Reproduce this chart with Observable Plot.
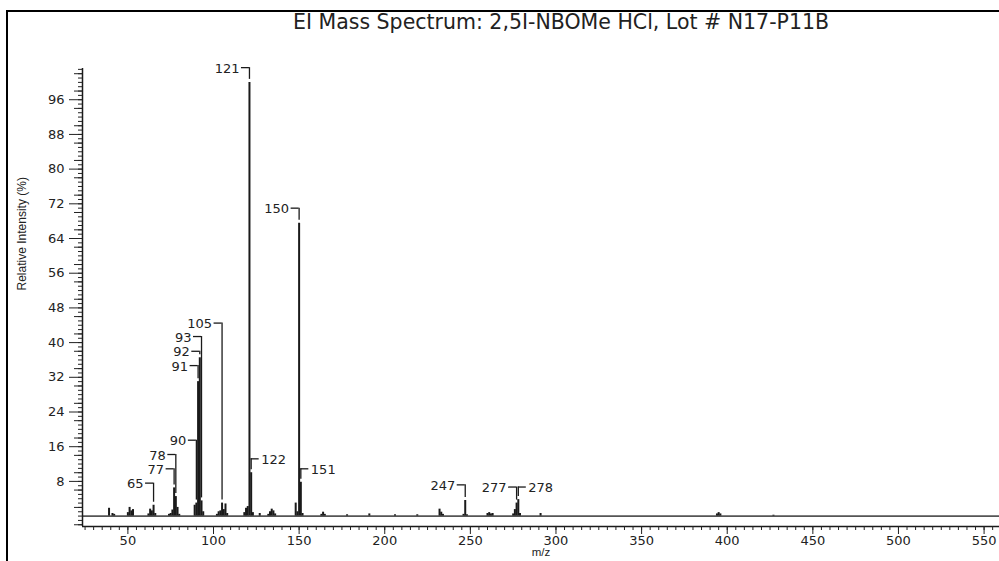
<!DOCTYPE html>
<html>
<head>
<meta charset="utf-8">
<script src="https://cdn.jsdelivr.net/npm/d3@7"></script>
<script src="https://cdn.jsdelivr.net/npm/@observablehq/plot@0.6"></script>
<style>
  html, body { margin: 0; padding: 0; background: #fff; }
  #wrap { position: relative; width: 999px; height: 561px; overflow: hidden; }
  #frameLeft { position: absolute; left: 6px; top: 10px; width: 2px; height: 551px; background: #000; }
  #frameTop { position: absolute; left: 6px; top: 10px; width: 993px; height: 2px; background: #000; }
  #title { position: absolute; top: 10px; left: 561px; transform: translateX(-50%); white-space: nowrap;
           font-family: "DejaVu Sans", sans-serif; font-size: 20.5px; color: #222; line-height: 24px; }
  #chart { position: absolute; left: 0; top: 0; }
</style>
</head>
<body>
<div id="wrap">
  <div id="chart"></div>
  <div id="frameLeft"></div>
  <div id="frameTop"></div>
  <div id="title">EI Mass Spectrum: 2,5I-NBOMe HCl, Lot # N17-P11B</div>
</div>
<script>
// ---- data ----
const mz = [39, 41, 42, 50, 51, 52, 53, 62, 63, 64, 65, 66, 74, 75, 76, 77, 78, 79, 80,
            89, 90, 91, 92, 93, 94, 102, 103, 104, 105, 106, 107, 108, 118, 119, 120, 121, 122, 123,
            127, 132, 133, 134, 135, 136, 148, 149, 150, 151, 152, 163, 164, 165, 178, 191, 206, 219,
            232, 233, 234, 246, 247, 248, 260, 261, 262, 263, 275, 276, 277, 278, 279, 291,
            394, 395, 396, 427];
const intensity = [1.8, 0.6, 0.4, 0.8, 2.0, 1.2, 1.5, 0.5, 1.6, 1.2, 2.5, 0.6, 0.4, 0.6, 1.4, 6.5, 4.5, 2.0, 0.4,
            2.5, 3.0, 31, 36.5, 3.5, 1.0, 0.4, 1.0, 1.2, 3.0, 1.5, 2.8, 0.6, 0.8, 1.8, 2.2, 100, 10, 0.8,
            0.6, 0.4, 1.0, 1.6, 1.2, 0.5, 3.0, 1.0, 67.5, 7.8, 0.6, 0.4, 0.9, 0.4, 0.3, 0.5, 0.3, 0.3,
            1.6, 0.9, 0.4, 0.4, 3.6, 0.3, 0.6, 0.8, 0.5, 0.6, 0.5, 1.5, 3.0, 3.8, 0.6, 0.6,
            0.5, 0.8, 0.5, 0.2];

// labelled peaks: where each label sits (in % units) and on which side of its peak
const labelMz    = [65, 77, 78, 90, 91, 92, 93, 105, 121, 122, 150, 151, 247, 277, 278];
const labelLevel = [7.6, 10.9, 14.2, 17.5, 34.7, 38.0, 41.4, 44.5, 103.4, 13.2, 71.0, 10.9, 7.2, 6.7, 6.7];
const labelSide  = ["left", "left", "left", "left", "left", "left", "left", "left", "left", "right",
                    "left", "right", "left", "left", "right"];

const xTickLabels = [50, 100, 150, 200, 250, 300, 350, 400, 450, 500, 550];
const yTickLabels = [8, 16, 24, 32, 40, 48, 56, 64, 72, 80, 88, 96];
const xDomain = [23.5, 559];
const yDomain = [-2.4, 103.2];

// ---- build ----
const W = 999, H = 561, mL = 82, mR = 0, mT = 68, mB = 35;
const pxPerX = (W - mL - mR) / (xDomain[1] - xDomain[0]);
const pxPerY = (H - mT - mB) / (yDomain[1] - yDomain[0]);
const hookU = 8 / pxPerX;
const gapU = 3 / pxPerY;

const peaks = mz.map((m, i) => ({mz: m, intensity: intensity[i]}));
const labels = labelMz.map((m, i) => ({
  mz: m, level: labelLevel[i], side: labelSide[i], peak: intensity[mz.indexOf(m)]
}));
const leftLabels = labels.filter(d => d.side === "left");
const rightLabels = labels.filter(d => d.side === "right");

const ink = "#1a1a1a";

const chart = Plot.plot({
  width: W, height: H,
  marginLeft: mL, marginRight: mR, marginTop: mT, marginBottom: mB,
  style: {fontFamily: "DejaVu Sans, sans-serif", fontSize: "13px", color: "#222", background: "transparent", overflow: "visible"},
  x: {domain: xDomain},
  y: {domain: yDomain},
  marks: [
    // baseline of the spectrum
    Plot.ruleY([0], {stroke: "#555", strokeWidth: 1.6}),
    // peaks
    Plot.ruleX(peaks, {x: "mz", y1: 0, y2: "intensity", stroke: ink, strokeWidth: 2}),
    // label leaders
    Plot.ruleX(labels, {x: "mz", y1: "level", y2: d => Math.min(d.level, d.peak + gapU), stroke: ink, strokeWidth: 1.3}),
    Plot.ruleY(labels, {y: "level", x1: d => d.side === "left" ? d.mz - hookU : d.mz + hookU, x2: "mz", stroke: ink, strokeWidth: 1.3}),
    Plot.text(leftLabels, {x: "mz", y: "level", text: d => String(d.mz), textAnchor: "end", dx: -10, dy: 1, fill: "#222", fontSize: 13}),
    Plot.text(rightLabels, {x: "mz", y: "level", text: d => String(d.mz), textAnchor: "start", dx: 10, dy: 1, fill: "#222", fontSize: 13}),
    // axes
    Plot.ruleX([xDomain[0]], {stroke: ink, strokeWidth: 1.5}),
    Plot.ruleY([yDomain[0]], {stroke: ink, strokeWidth: 1.5}),
    Plot.axisX({ticks: xTickLabels, tickSize: 8, tickPadding: 1, label: null, fontSize: 13}),
    Plot.axisX({ticks: d3.range(25, 559, 5), tickSize: 4, text: null, label: null}),
    Plot.axisY({ticks: yTickLabels, tickSize: 13, tickPadding: 5, label: null, fontSize: 13}),
    Plot.axisY({ticks: d3.range(-2, 104, 4), tickSize: 8, text: null, label: null}),
    Plot.axisY({ticks: d3.range(-2, 104, 1), tickSize: 4, text: null, label: null}),
    // axis titles
    Plot.text(["Relative Intensity (%)"], {frameAnchor: "left", rotate: -90, dx: -60, dy: -7, fontSize: 12, fontFamily: "Liberation Sans, Arial, sans-serif", fill: "#222"}),
    Plot.text(["m/z"], {frameAnchor: "bottom", dy: 29, fontSize: 11.5, fontFamily: "Liberation Sans, Arial, sans-serif", fill: "#222"})
  ]
});
document.getElementById("chart").appendChild(chart);
</script>
</body>
</html>
